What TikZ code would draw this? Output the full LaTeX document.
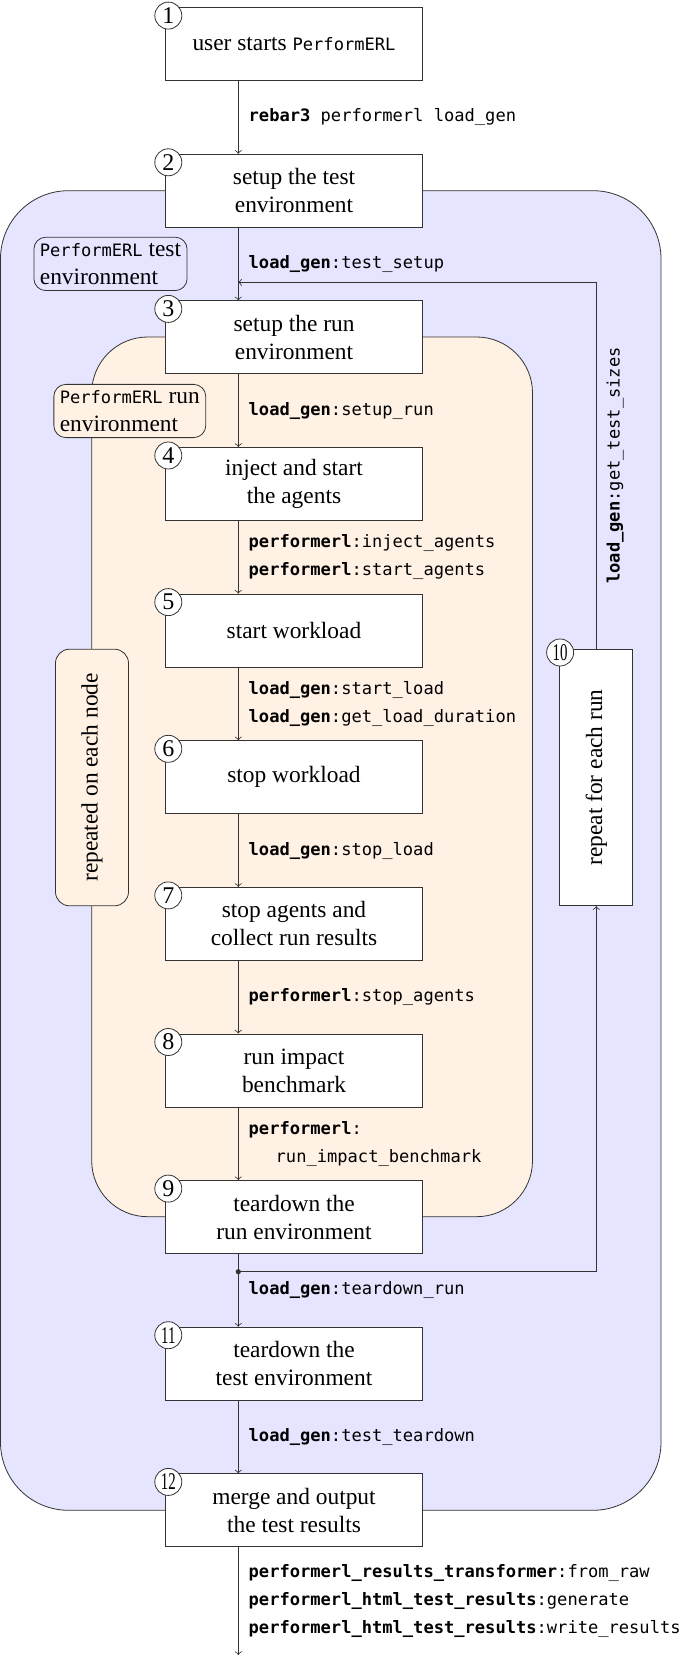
\documentclass[tikz,border=0pt]{standalone}
\usepackage{fontspec}
\setmainfont{Liberation Serif}
\setmonofont{DejaVu Sans Mono}[Scale=0.73]
\usepackage{tikz}
\usetikzlibrary{calc}

\begin{document}
\begin{tikzpicture}[x=0.5pt, y=-0.5pt,
		font=\fontsize{11.7}{14}\selectfont,
		stepbox/.style={draw=black!80, fill=white, minimum width=128.3pt, minimum height=36.5pt, align=center, inner sep=2pt},
		stepnum/.style={circle, draw=black!80, fill=white, minimum size=13.5pt, inner sep=0pt, font=\fontsize{12}{12}\selectfont},
		envtag/.style={draw=black!80, rounded corners=6pt, align=left, inner sep=3pt},
		call/.style={anchor=west, align=left, inner sep=0pt, xshift=5pt, font=\fontsize{11.7}{14}\selectfont\ttfamily},
		flow/.style={->, draw=black!80}]
			%%%%% START %%%%%
			
			\useasboundingbox (0,0) rectangle (685,1657);
			
			\draw[draw=black!80, fill=blue!10, rounded corners=34pt] (0.5,190.7) rectangle (661,1510.3);
			\draw[draw=black!80, fill=orange!10, rounded corners=28pt] (91.7,337) rectangle (532.5,1216.7);
			
			\node[envtag, fill=blue!10] (testenv) at (110.5,263.9) {\texttt{PerformERL} test\\environment};
			\node[envtag, fill=orange!10] (runenv) at (129.8,411) {\texttt{PerformERL} run\\environment};
			\node[stepbox, fill=orange!10, rounded corners=7pt, rotate=90] (pernode) at (92,777.5) {repeated on each node};
			
			\node[stepbox] (b1) at (294,44) {user starts \texttt{PerformERL}};
			\node[stepbox] (b2) at (294,190.7) {setup the test\\environment};
			\node[stepbox] (b3) at (294,337.3) {setup the run\\environment};
			\node[stepbox] (b4) at (294,483.9) {inject and start\\the agents};
			\node[stepbox] (b5) at (294,630.5) {start workload};
			\node[stepbox] (b6) at (294,777.2) {stop workload};
			\node[stepbox] (b7) at (294,923.8) {stop agents and\\collect run results};
			\node[stepbox] (b8) at (294,1070.4) {run impact\\benchmark};
			\node[stepbox] (b9) at (294,1217) {teardown the\\run environment};
			\node[stepbox, rotate=90] (b10) at (596.3,777.5) {repeat for each run};
			\node[stepbox] (b11) at (294,1363.6) {teardown the\\test environment};
			\node[stepbox] (b12) at (294,1510.3) {merge and output\\the test results};
			
			\node[stepnum] (n1) at ($(b1.north west)+(3,8.5)$) {1};
			\node[stepnum] (n2) at ($(b2.north west)+(3,8.5)$) {2};
			\node[stepnum] (n3) at ($(b3.north west)+(3,8.5)$) {3};
			\node[stepnum] (n4) at ($(b4.north west)+(3,8.5)$) {4};
			\node[stepnum] (n5) at ($(b5.north west)+(3,8.5)$) {5};
			\node[stepnum] (n6) at ($(b6.north west)+(3,8.5)$) {6};
			\node[stepnum] (n7) at ($(b7.north west)+(3,8.5)$) {7};
			\node[stepnum] (n8) at ($(b8.north west)+(3,8.5)$) {8};
			\node[stepnum] (n9) at ($(b9.north west)+(3,8.5)$) {9};
			\node[stepnum] (n10) at ($(b10.north east)+(0.7,3.7)$) {\scalebox{0.62}[1]{10}};
			\node[stepnum] (n11) at ($(b11.north west)+(3,8.5)$) {\scalebox{0.62}[1]{11}};
			\node[stepnum] (n12) at ($(b12.north west)+(3,8.5)$) {\scalebox{0.62}[1]{12}};
			
			\coordinate (ax) at (238.3,0);
			\coordinate (j3) at (238.3,282.3);
			\coordinate (fork) at (238.3,1271.7);
			\coordinate (out) at (238.3,1655);
			
			\draw[flow] (b1.south -| ax) -- (b2.north -| ax) node[call, midway] {\textbf{rebar3} performerl load\_gen};
			\draw[flow] (b2.south -| ax) -- (b3.north -| ax) node[call, midway] {\textbf{load\_gen}:test\_setup};
			\draw[flow] (b3.south -| ax) -- (b4.north -| ax) node[call, midway] {\textbf{load\_gen}:setup\_run};
			\draw[flow] (b4.south -| ax) -- (b5.north -| ax) node[call, midway] {\textbf{performerl}:inject\_agents\\\textbf{performerl}:start\_agents};
			\draw[flow] (b5.south -| ax) -- (b6.north -| ax) node[call, midway] {\textbf{load\_gen}:start\_load\\\textbf{load\_gen}:get\_load\_duration};
			\draw[flow] (b6.south -| ax) -- (b7.north -| ax) node[call, midway] {\textbf{load\_gen}:stop\_load};
			\draw[flow] (b7.south -| ax) -- (b8.north -| ax) node[call, midway] {\textbf{performerl}:stop\_agents};
			\draw[flow] (b8.south -| ax) -- (b9.north -| ax) node[call, midway] {\textbf{performerl}:\\\hspace*{13.5pt}run\_impact\_benchmark};
			\draw[flow] (b9.south -| ax) -- (b11.north -| ax) node[call, midway] {\textbf{load\_gen}:teardown\_run};
			\draw[flow] (b11.south -| ax) -- (b12.north -| ax) node[call, midway] {\textbf{load\_gen}:test\_teardown};
			\draw[flow] (b12.south -| ax) -- (out) node[call, midway] {\textbf{performerl\_results\_transformer}:from\_raw\\\textbf{performerl\_html\_test\_results}:generate\\\textbf{performerl\_html\_test\_results}:write\_results};
			
			\fill[black!80] (fork) circle (1.3pt);
			\draw[flow] (fork) -| (b10);
			\draw[flow] (b10) |- (j3) node[pos=0.25, rotate=90, anchor=north, inner sep=5pt, font=\fontsize{11.7}{14}\selectfont\ttfamily] {\textbf{load\_gen}:get\_test\_sizes};
			
			%%%%% END %%%%%
		\end{tikzpicture}
\end{document}
